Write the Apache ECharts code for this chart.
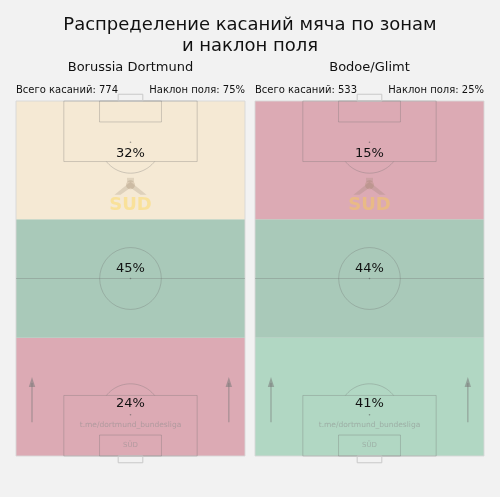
<!DOCTYPE html>
<html><head><meta charset="utf-8">
<script src="https://cdn.jsdelivr.net/npm/echarts@6/dist/echarts.min.js"></script>
<style>html,body{margin:0;padding:0;background:#f2f2f2}#c{width:500px;height:497px}</style>
</head><body><div id="c"></div>
<script>
// ---- data ----
const titleText = 'Распределение касаний мяча по зонам\nи наклон поля';
const teams = ['Borussia Dortmund', 'Bodoe/Glimt'];
const totalTouches = [774, 533];
const fieldTilt = [75, 25];
// zone shares: [defensive third, middle third, attacking third]
const zoneShare = [[24, 45, 32], [41, 44, 15]];
const zoneColors = [['#dcaab4', '#a9c9b9', '#f5e9d4'], ['#b1d7c3', '#a9c9b9', '#dcaab4']];
const zoneBounds = [[0, 35], [35, 70], [70, 105]];
const labelY = [15.4, 55.3, 89.3];

// ---- pitch constants (metres) ----
const L = 105, W = 68;
const FONT = 'DejaVu Sans';
const LINE = 'rgba(110,110,110,0.3)';

const chart = echarts.init(document.getElementById('c'), null, {renderer: 'canvas'});

function zoneRender(t) {
  return function (params, api) {
    const i = params.dataIndex;
    const [y0, y1] = zoneBounds[i];
    const p0 = api.coord([0, y1]);
    const p1 = api.coord([W, y0]);
    const lp = api.coord([W / 2, labelY[i]]);
    return {
      type: 'group',
      children: [
        {type: 'rect', shape: {x: p0[0], y: p0[1], width: p1[0] - p0[0], height: p1[1] - p0[1]},
         style: {fill: zoneColors[t][i]}, z2: 1},
        {type: 'text', x: lp[0], y: lp[1], z2: 50,
         style: {text: api.value(1) + '%', fill: '#111', font: '13px "' + FONT + '"', align: 'center', verticalAlign: 'middle'}}
      ]
    };
  };
}

function pitchRender(params, api) {
  const c = (x, y) => api.coord([x, y]);
  const st = {stroke: LINE, fill: 'none', lineWidth: 1};
  const rect = (x0, y0, x1, y1, style) => {
    const a = c(x0, y1), b = c(x1, y0);
    return {type: 'rect', shape: {x: a[0], y: a[1], width: b[0] - a[0], height: b[1] - a[1]}, style: style || st};
  };
  const line = (x0, y0, x1, y1, style) => {
    const a = c(x0, y0), b = c(x1, y1);
    return {type: 'line', shape: {x1: a[0], y1: a[1], x2: b[0], y2: b[1]}, style: style || st};
  };
  const dot = (x, y) => {
    const a = c(x, y);
    return {type: 'circle', shape: {cx: a[0], cy: a[1], r: 0.8}, style: {fill: 'rgba(90,90,90,0.6)'}};
  };
  // arc in data space as polyline
  const arcPts = (cx, cy, r, a0, a1) => {
    const pts = [];
    for (let k = 0; k <= 40; k++) {
      const a = a0 + (a1 - a0) * k / 40;
      pts.push(c(cx + r * Math.cos(a), cy + r * Math.sin(a)));
    }
    return {type: 'polyline', shape: {points: pts}, style: st};
  };
  const pbD = 17.9, pbX0 = 14.2, pbX1 = 53.8, sbD = 6.2, sbX0 = 24.8, sbX1 = 43.2, spot = 12.2, R = 9.15;
  const arcHalf = Math.acos((pbD - spot) / R);
  const arrowSt = {stroke: 'rgba(120,120,120,0.55)', lineWidth: 1.2};
  const arrow = (x) => {
    const a = c(x, 10), b = c(x, 23.4);
    return [
      {type: 'line', shape: {x1: a[0], y1: a[1], x2: b[0], y2: b[1] + 6}, style: arrowSt},
      {type: 'polygon', shape: {points: [[b[0], b[1]], [b[0] - 3.2, b[1] + 10], [b[0] + 3.2, b[1] + 10]]},
       style: {fill: 'rgba(120,120,120,0.55)'}}
    ];
  };
  const wm = c(W / 2, 74.2);
  const wmHead = c(W / 2, 80.5);
  const children = [
    rect(0, 0, W, L, {stroke: 'rgba(215,215,215,0.9)', fill: 'none', lineWidth: 1}),
    line(0, L / 2, W, L / 2),
    arcPts(W / 2, L / 2, R, 0, Math.PI * 2),
    dot(W / 2, L / 2),
    rect(pbX0, L - pbD, pbX1, L), rect(sbX0, L - sbD, sbX1, L),
    rect(pbX0, 0, pbX1, pbD), rect(sbX0, 0, sbX1, sbD),
    dot(W / 2, L - spot), dot(W / 2, spot),
    arcPts(W / 2, L - spot, R, -Math.PI / 2 - arcHalf, -Math.PI / 2 + arcHalf),
    arcPts(W / 2, spot, R, Math.PI / 2 - arcHalf, Math.PI / 2 + arcHalf),
    rect(30.34, L, 37.66, L + 2, {stroke: 'rgba(200,200,200,1)', fill: 'none', lineWidth: 1}),
    rect(30.34, -2, 37.66, 0, {stroke: 'rgba(200,200,200,1)', fill: 'none', lineWidth: 1}),
    ...arrow(4.75), ...arrow(63.2),
    // watermark logo
    {type: 'polygon', shape: {points: [[wmHead[0], wmHead[1] - 2], [wmHead[0] - 16, wmHead[1] + 11], [wmHead[0] - 10, wmHead[1] + 11], [wmHead[0], wmHead[1] + 4], [wmHead[0] + 10, wmHead[1] + 11], [wmHead[0] + 16, wmHead[1] + 11]]},
     style: {fill: 'rgba(140,125,100,0.22)'}},
    {type: 'circle', shape: {cx: wmHead[0], cy: wmHead[1] + 1, r: 4.5}, style: {fill: 'rgba(150,125,90,0.25)'}},
    {type: 'rect', shape: {x: wmHead[0] - 3.5, y: wmHead[1] - 6, width: 7, height: 4}, style: {fill: 'rgba(140,125,100,0.2)'}},
    {type: 'text', x: wm[0], y: wm[1], style: {text: 'SUD', font: 'bold 18px "' + FONT + '"', fill: 'rgba(255,212,60,0.38)', align: 'center', verticalAlign: 'middle'}},
    (function () { const p = c(W / 2, 9.2); return {type: 'text', x: p[0], y: p[1], style: {text: 't.me/dortmund_bundesliga', font: '7.5px "' + FONT + '"', fill: 'rgba(140,140,140,0.55)', align: 'center', verticalAlign: 'middle'}}; })(),
    (function () { const p = c(W / 2, 3.3); return {type: 'text', x: p[0], y: p[1], style: {text: 'SÜD', font: '7px "' + FONT + '"', fill: 'rgba(140,140,140,0.5)', align: 'center', verticalAlign: 'middle'}}; })()
  ];
  return {type: 'group', children: children};
}

const grids = [
  {left: 16, top: 101, width: 229, height: 355},
  {left: 255, top: 101, width: 229, height: 355}
];
const xAxes = grids.map((g, i) => ({gridIndex: i, type: 'value', min: 0, max: W, show: false}));
const yAxes = grids.map((g, i) => ({gridIndex: i, type: 'value', min: 0, max: L, show: false}));

const series = [];
const titles = [{text: titleText, left: 'center', top: 15, padding: 0,
  textStyle: {fontFamily: FONT, fontSize: 18, fontWeight: 'normal', color: '#111', lineHeight: 21}}];
teams.forEach((t, i) => {
  series.push({type: 'custom', xAxisIndex: i, yAxisIndex: i, renderItem: zoneRender(i), clip: false,
    data: zoneShare[i].map((v, k) => [k, v]), z: 1, silent: true});
  series.push({type: 'custom', xAxisIndex: i, yAxisIndex: i, renderItem: pitchRender, clip: false,
    data: [[0]], z: 2, silent: true});
  const g = grids[i];
  const cx = g.left + g.width / 2;
  titles.push({text: t, left: cx, top: 61, textAlign: 'center', padding: 0,
    textStyle: {fontFamily: FONT, fontSize: 13, fontWeight: 'normal', color: '#111'}});
  titles.push({text: 'Всего касаний: ' + totalTouches[i], left: g.left, top: 85.5, padding: 0,
    textStyle: {fontFamily: FONT, fontSize: 10, fontWeight: 'normal', color: '#111'}});
  titles.push({text: 'Наклон поля: ' + fieldTilt[i] + '%', right: 500 - g.left - g.width, top: 85.5, padding: 0,
    textStyle: {fontFamily: FONT, fontSize: 10, fontWeight: 'normal', color: '#111'}});
});

chart.setOption({
  backgroundColor: '#f2f2f2',
  animation: false,
  title: titles,
  grid: grids,
  xAxis: xAxes,
  yAxis: yAxes,
  series: series
});
</script></body></html>
